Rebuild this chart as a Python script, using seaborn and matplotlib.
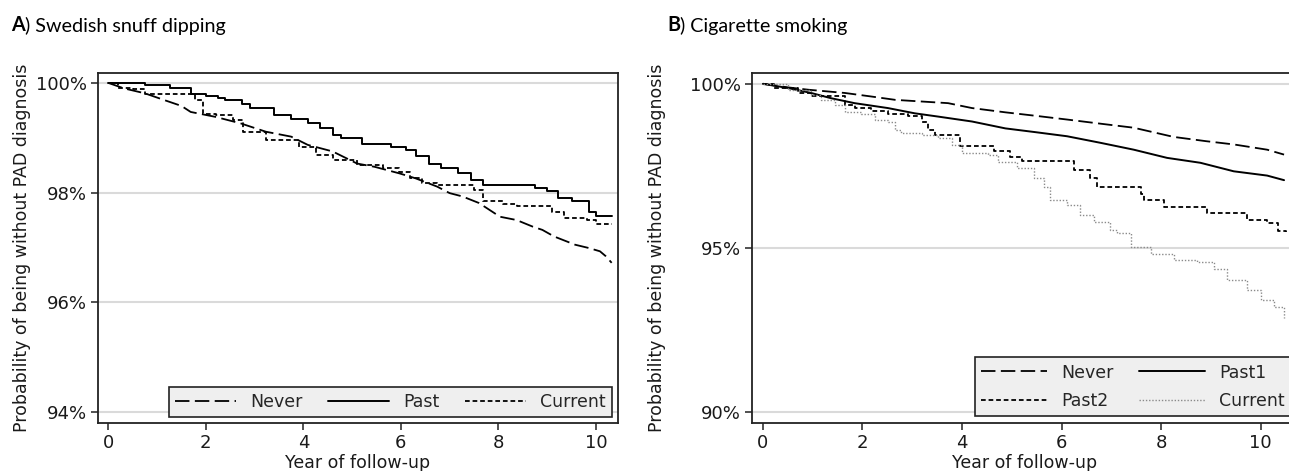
import matplotlib
matplotlib.use("Agg")
import matplotlib.pyplot as plt
import numpy as np
import pandas as pd
import seaborn as sns
from matplotlib.lines import Line2D

# ---------------- data ----------------
# Panel A: Swedish snuff dipping
a_never_t = [0, 0.32, 0.75, 1.17, 1.5, 1.69, 2.2, 2.72, 3.23, 3.75, 4.09, 4.6, 5.1, 5.46, 5.97,
             6.3, 6.74, 7.0, 7.26, 7.6, 8.03, 8.37, 8.7, 8.9, 9.14, 9.57, 9.85, 10.08, 10.2, 10.32]
a_never_v = [100, 99.9, 99.81, 99.68, 99.58, 99.47, 99.38, 99.26, 99.11, 99.02, 98.87, 98.75, 98.53,
             98.47, 98.35, 98.26, 98.11, 97.99, 97.93, 97.81, 97.56, 97.5, 97.38, 97.32, 97.2, 97.05,
             96.99, 96.93, 96.84, 96.72]

a_past_t = [0, 0.45, 0.75, 1.26, 1.7, 2.0, 2.25, 2.4, 2.75, 2.9, 3.4, 3.75, 4.1, 4.35, 4.6, 4.77,
            5.2, 5.8, 6.1, 6.3, 6.57, 6.83, 7.17, 7.43, 7.69, 8.75, 9.0, 9.22, 9.5, 9.85, 10.0, 10.32]
a_past_v = [100, 99.99, 99.96, 99.9, 99.79, 99.76, 99.73, 99.68, 99.61, 99.55, 99.42, 99.35, 99.27,
            99.17, 99.05, 99.0, 98.88, 98.84, 98.78, 98.67, 98.53, 98.44, 98.35, 98.23, 98.13, 98.08,
            98.02, 97.9, 97.84, 97.65, 97.58, 97.58]

a_cur_t = [0, 0.19, 0.5, 0.75, 1.77, 1.95, 2.2, 2.55, 2.76, 3.23, 3.92, 4.26, 4.6, 5.1, 5.63, 5.97,
           6.19, 6.44, 6.74, 7.5, 7.69, 8.1, 8.37, 9.1, 9.35, 9.82, 10.0, 10.32]
a_cur_v = [100, 99.9, 99.88, 99.79, 99.68, 99.44, 99.41, 99.32, 99.1, 98.96, 98.84, 98.69, 98.6,
           98.5, 98.44, 98.38, 98.26, 98.18, 98.14, 98.05, 97.84, 97.8, 97.75, 97.65, 97.53, 97.5,
           97.43, 97.43]

# Panel B: Cigarette smoking
b_never_t = [0, 0.51, 0.91, 1.65, 2.19, 2.66, 3.19, 3.72, 4.2, 4.87, 5.5, 6.11, 6.8, 7.45, 8.25,
             8.9, 9.46, 10.13, 10.47]
b_never_v = [100, 99.89, 99.82, 99.72, 99.61, 99.51, 99.46, 99.41, 99.26, 99.13, 99.02, 98.91,
             98.78, 98.66, 98.38, 98.25, 98.15, 97.99, 97.84]

b_past1_t = [0, 0.51, 0.97, 1.37, 1.84, 2.51, 3.05, 3.52, 4.2, 4.87, 5.5, 6.11, 6.78, 7.45, 8.12,
             8.79, 9.46, 10.13, 10.47]
b_past1_v = [100, 99.87, 99.72, 99.56, 99.41, 99.26, 99.1, 99.0, 98.85, 98.64, 98.52, 98.4, 98.2,
             97.99, 97.74, 97.59, 97.33, 97.2, 97.06]

b_past2_t = [0, 0.23, 0.70, 0.97, 1.65, 1.84, 2.17, 2.51, 2.91, 3.19, 3.32, 3.45, 3.95, 4.64, 4.97,
             5.2, 6.24, 6.58, 6.71, 7.59, 7.65, 8.05, 8.92, 9.73, 10.13, 10.34, 10.5]
b_past2_v = [100, 99.87, 99.72, 99.64, 99.36, 99.26, 99.17, 99.07, 99.03, 98.85, 98.59, 98.44, 98.11,
             97.95, 97.78, 97.63, 97.37, 97.12, 96.86, 96.64, 96.45, 96.25, 96.05, 95.84, 95.74,
             95.52, 95.48]

b_cur_t = [0, 0.51, 0.97, 1.17, 1.44, 1.64, 1.98, 2.25, 2.51, 2.65, 2.78, 3.19, 3.52, 3.79, 3.99,
           4.53, 4.73, 5.1, 5.44, 5.64, 5.77, 6.11, 6.38, 6.65, 6.98, 7.12, 7.39, 7.79, 8.26, 8.72,
           9.06, 9.33, 9.73, 10.0, 10.27, 10.47]
b_cur_v = [100, 99.82, 99.66, 99.51, 99.36, 99.15, 99.07, 98.9, 98.85, 98.59, 98.49, 98.44, 98.34,
           98.13, 97.88, 97.83, 97.62, 97.42, 97.12, 96.86, 96.45, 96.3, 96.0, 95.79, 95.54, 95.44,
           95.03, 94.82, 94.62, 94.56, 94.36, 94.01, 93.71, 93.4, 93.2, 92.84]

x_ticks = [0, 2, 4, 6, 8, 10]
a_yticks = [94, 96, 98, 100]
b_yticks = [90, 95, 100]

# ---------------- figure ----------------
sns.set_theme(style="white")
plt.rcParams['font.family'] = ['DejaVu Sans']

W, H = 1289, 471
fig = plt.figure(figsize=(W / 100, H / 100), dpi=100)


def px_axes(l, r, t, b):
    return [l / W, 1 - b / H, (r - l) / W, (b - t) / H]


axA = fig.add_axes(px_axes(98, 618, 73, 423))
axB = fig.add_axes(px_axes(752, 1297, 73, 423))

long_dash = (0, (8, 3))
short_dash = (0, (2.6, 1.6))
dotted = (0, (1, 1.3))

seriesA = [
    ("Never", a_never_t, a_never_v, dict(color="black", lw=1.3, ls=long_dash, ds="default")),
    ("Past", a_past_t, a_past_v, dict(color="black", lw=1.4, ls="-", ds="steps-post")),
    ("Current", a_cur_t, a_cur_v, dict(color="black", lw=1.3, ls=short_dash, ds="steps-post")),
]
seriesB = [
    ("Never", b_never_t, b_never_v, dict(color="black", lw=1.3, ls=long_dash, ds="default")),
    ("Past1", b_past1_t, b_past1_v, dict(color="black", lw=1.4, ls="-", ds="default")),
    ("Past2", b_past2_t, b_past2_v, dict(color="black", lw=1.3, ls=short_dash, ds="steps-post")),
    ("Current", b_cur_t, b_cur_v, dict(color="#8a8a8a", lw=1.0, ls=dotted, ds="steps-post")),
]


def draw(ax, series):
    handles = {}
    for name, t, v, st in series:
        df = pd.DataFrame({"Year": t, "Survival": v})
        sns.lineplot(data=df, x="Year", y="Survival", ax=ax, estimator=None, sort=False,
                     drawstyle=st["ds"], color=st["color"], linewidth=st["lw"],
                     legend=False)
        line = ax.get_lines()[-1]
        line.set_linestyle(st["ls"])
        handles[name] = Line2D([], [], color=st["color"], lw=st["lw"], ls=st["ls"])
    return handles


hA = draw(axA, seriesA)
hB = draw(axB, seriesB)

for ax in (axA, axB):
    ax.set_xticks(x_ticks)
    ax.set_xticklabels([str(x) for x in x_ticks])
    ax.set_axisbelow(True)
    ax.yaxis.grid(True, color="#dadada", lw=1.5)
    ax.xaxis.grid(False)
    for s in ax.spines.values():
        s.set_color("#222222")
        s.set_linewidth(1.3)
    ax.tick_params(axis="both", direction="out", length=5, width=1.1, color="#222222",
                   labelsize=13, pad=3, labelcolor="#1a1a1a")
    ax.tick_params(left=True, bottom=True)
    ax.set_xlabel("Year of follow-up", fontsize=12.5, color="#1a1a1a")
    ax.set_ylabel("Probability of being without PAD diagnosis", fontsize=12.5, color="#1a1a1a")

axA.set_xlim(-0.21, 10.45)
axB.set_xlim(-0.22, 10.73)

axA.set_ylim(93.8, 100.18)
axA.set_yticks(a_yticks)
axA.set_yticklabels([f"{y}%" for y in a_yticks])
axB.set_ylim(89.65, 100.33)
axB.set_yticks(b_yticks)
axB.set_yticklabels([f"{y}%" for y in b_yticks])

axA.yaxis.set_label_coords(-0.128, 0.5)
axB.yaxis.set_label_coords(-0.158, 0.5)
axA.xaxis.set_label_coords(0.5, -0.088)
axB.xaxis.set_label_coords(0.5, -0.088)

leg_kw = dict(fontsize=12.5, frameon=True, fancybox=False, facecolor="#efefef",
              edgecolor="#222222", framealpha=1, borderpad=0.35, handletextpad=0.8,
              borderaxespad=0)

legA = axA.legend([hA["Never"], hA["Past"], hA["Current"]], ["Never", "Past", "Current"],
                  ncol=3, loc="lower right", bbox_to_anchor=(0.988, 0.017),
                  handlelength=3.5, columnspacing=1.5, labelspacing=0.25, **leg_kw)
legB = axB.legend([hB["Never"], hB["Past2"], hB["Past1"], hB["Current"]],
                  ["Never", "Past2", "Past1", "Current"],
                  ncol=2, loc="lower left", bbox_to_anchor=(0.409, 0.02),
                  handlelength=3.8, columnspacing=1.5, labelspacing=0.6, **leg_kw)
for leg in (legA, legB):
    leg.get_frame().set_linewidth(1.2)

# panel titles: bold letter + regular text
for xpx, letter, rest in [(11, "A", ") Swedish snuff dipping"), (667, "B", ") Cigarette smoking")]:
    t1 = fig.text(xpx / W, 1 - 31 / H, letter, fontsize=14.2, fontweight="bold",
                  family=["Lato", "DejaVu Sans"], va="baseline", ha="left", color="black")
    fig.add_artist(plt.Annotation(rest, xy=(1, 0), xycoords=t1, va="bottom", ha="left",
                                  fontsize=14.2, family=["Lato", "DejaVu Sans"], color="black"))

fig.savefig("out.png", dpi=100)
